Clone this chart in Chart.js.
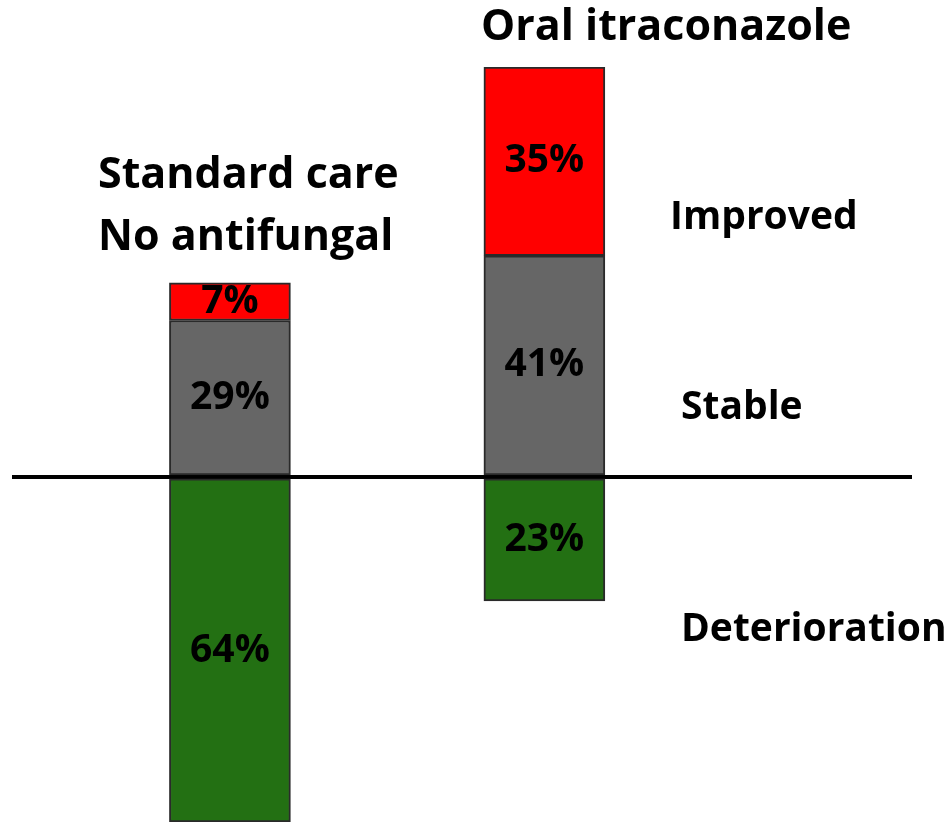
<!DOCTYPE html>
<html>
<head>
<meta charset="utf-8">
<script src="https://cdn.jsdelivr.net/npm/chart.js@4/dist/chart.umd.min.js"></script>
<style>
  html, body { margin: 0; padding: 0; background: #fff; }
  #wrap { width: 951px; height: 825px; position: relative; }
</style>
</head>
<body>
<div id="wrap"><canvas id="c"></canvas></div>
<script>
// Outcome shares (%) for each treatment group
const groups = ['Standard care\nNo antifungal', 'Oral itraconazole'];
const improved = [7, 35];
const stable = [29, 41];
const deterioration = [64, 23];
const outcomeNames = ['Improved', 'Stable', 'Deterioration'];

const FONT = '"Open Sans", Lato, sans-serif';

function points(values, sign) {
  return values.map((v, i) => ({ x: i, y: sign * v }));
}

// Writes each segment's percentage in its middle
const segmentLabels = {
  id: 'segmentLabels',
  afterDatasetsDraw(chart) {
    const ctx = chart.ctx;
    ctx.save();
    ctx.font = 'bold 39px ' + FONT;
    ctx.fillStyle = '#000';
    ctx.textAlign = 'center';
    ctx.textBaseline = 'middle';
    chart.data.datasets.forEach((ds, di) => {
      chart.getDatasetMeta(di).data.forEach((bar, i) => {
        const v = Math.abs(ds.data[i].y);
        ctx.fillText(v + '%', bar.x, (bar.y + bar.base) / 2);
      });
    });
    ctx.restore();
  }
};

// Group titles above the bars and outcome names on the right
const annotations = {
  id: 'annotations',
  afterDraw(chart) {
    const ctx = chart.ctx;
    ctx.save();
    ctx.fillStyle = '#000';
    ctx.textBaseline = 'middle';
    ctx.textAlign = 'left';
    ctx.font = 'bold 43px ' + FONT;
    const t0 = groups[0].split('\n');
    ctx.fillText(t0[0], 98, 176);
    ctx.fillText(t0[1], 98, 238);
    ctx.fillText(groups[1], 481, 28);
    ctx.font = 'bold 39px ' + FONT;
    ctx.fillText(outcomeNames[0], 670, 218);
    ctx.fillText(outcomeNames[1], 681, 408);
    ctx.fillText(outcomeNames[2], 681, 630);
    ctx.restore();
  }
};

new Chart(document.getElementById('c'), {
  type: 'bar',
  data: {
    datasets: [
      { label: outcomeNames[2], data: points(deterioration, -1), backgroundColor: '#237013' },
      { label: outcomeNames[1], data: points(stable, 1), backgroundColor: '#666666' },
      { label: outcomeNames[0], data: points(improved, 1), backgroundColor: '#ff0000' }
    ]
  },
  options: {
    responsive: true,
    maintainAspectRatio: false,
    animation: false,
    layout: { padding: { left: 12, right: 39, top: 67, bottom: 3 } },
    datasets: {
      bar: {
        borderColor: '#2a2a2a',
        borderWidth: 2,
        borderSkipped: false,
        barThickness: 121
      }
    },
    plugins: {
      legend: { display: false },
      tooltip: { enabled: false }
    },
    scales: {
      x: {
        type: 'linear',
        stacked: true,
        offset: false,
        min: -0.693,
        max: 2.169,
        display: false
      },
      y: {
        stacked: true,
        min: -64,
        max: 76,
        afterBuildTicks: axis => { axis.ticks = [{ value: 0 }]; },
        ticks: { display: false },
        border: { display: false },
        grid: { drawTicks: false, color: '#000', lineWidth: 4 }
      }
    }
  },
  plugins: [segmentLabels, annotations]
});
</script>
</body>
</html>
